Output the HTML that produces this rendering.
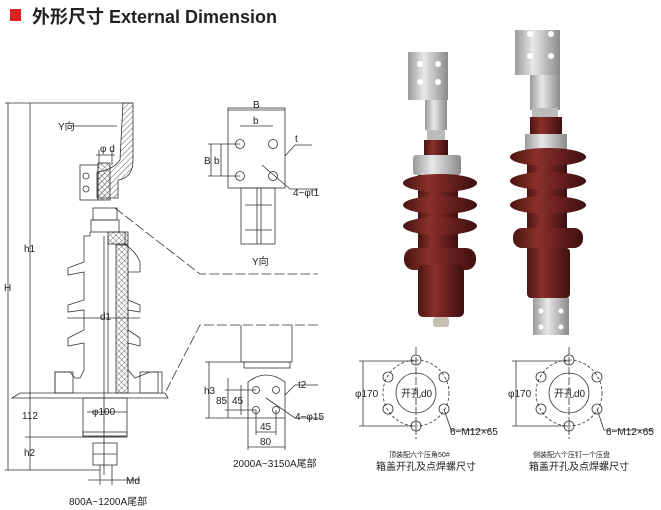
<!DOCTYPE html>
<html><head><meta charset="utf-8"><style>
html,body{margin:0;padding:0;background:#fff;}
svg{display:block;}
text{font-family:"Liberation Sans","Noto Sans CJK SC",sans-serif;fill:#222;}
</style></head><body>
<svg width="661" height="510" viewBox="0 0 661 510" xmlns="http://www.w3.org/2000/svg">
<defs>
<pattern id="hat" width="4" height="4" patternUnits="userSpaceOnUse" patternTransform="rotate(45)"><line x1="0" y1="0" x2="0" y2="4" stroke="#333" stroke-width="0.8"/></pattern>
<pattern id="xh" width="4" height="4" patternUnits="userSpaceOnUse" patternTransform="rotate(45)"><path d="M0 0V4M0 0H4" stroke="#444" stroke-width="0.7"/></pattern>
<linearGradient id="br" x1="0" x2="1"><stop offset="0" stop-color="#4a1512"/><stop offset="0.35" stop-color="#8a302a"/><stop offset="0.6" stop-color="#6e2220"/><stop offset="1" stop-color="#3e1010"/></linearGradient>
<linearGradient id="me" x1="0" x2="1"><stop offset="0" stop-color="#9a9a9a"/><stop offset="0.4" stop-color="#e8e8e8"/><stop offset="1" stop-color="#8a8a8a"/></linearGradient>
</defs>
<rect x="10" y="9" width="11" height="12" fill="#e02020"/>
<text x="32" y="23" font-size="18" font-weight="bold" fill="#222">外形尺寸  External Dimension</text>

<g stroke="#333" stroke-width="0.8" fill="none">
<line x1="5" y1="103" x2="133" y2="103"/>
<line x1="8" y1="103" x2="8" y2="470"/>
<line x1="30" y1="103" x2="30" y2="393"/>
<line x1="30" y1="393" x2="30" y2="437"/>
<line x1="30" y1="437" x2="30" y2="470"/>
<line x1="5" y1="470" x2="100" y2="470"/>
<line x1="25" y1="437" x2="125" y2="437"/>
<line x1="70" y1="126" x2="117" y2="126"/>
<path d="M123 103H133V160Q133 178 118 180V198H97V172Q113 170 120 160Z" fill="url(#hat)"/>
<rect x="80" y="165" width="18" height="35"/>
<circle cx="86" cy="176" r="3"/><circle cx="86" cy="189" r="3"/>
<rect x="98" y="163" width="12" height="37" fill="url(#xh)"/>
<line x1="99" y1="150" x2="99" y2="165"/><line x1="112" y1="150" x2="112" y2="165"/>
<line x1="96" y1="155" x2="115" y2="155"/>
<rect x="93" y="208" width="24" height="12"/>
<rect x="91" y="220" width="28" height="12"/>
<path d="M90 232V236H84V262L68 268V275L84 272V300L68 305V312L84 310V330L68 338V346L84 343V370L80 378H75L70 372H55V393"/>
<path d="M108 236V393"/><path d="M104 236V475"/>
<path d="M116 232H125V245Q135 250 140 262V272L128 272V300L140 305V312L128 310V330L140 338V346L128 343V370L135 378L150 372H162V393"/>
<rect x="116" y="245" width="12" height="148" fill="url(#xh)"/>
<rect x="108" y="232" width="20" height="12" fill="url(#xh)"/>
<line x1="67" y1="318" x2="140" y2="318"/>
<path d="M12 398L20 393H165L168 398Z"/>
<rect x="55" y="372" width="18" height="21"/><rect x="140" y="372" width="18" height="21"/>
<rect x="83" y="398" width="44" height="38"/>
<rect x="83" y="432" width="44" height="5"/>
<rect x="93" y="443" width="24" height="22"/>
<line x1="93" y1="454" x2="117" y2="454"/>
<line x1="100" y1="465" x2="100" y2="485"/><line x1="112" y1="465" x2="112" y2="485"/>
<line x1="88" y1="480" x2="140" y2="480"/>
<line x1="87" y1="412" x2="127" y2="412"/>
<path d="M115 208L200 274H318" stroke-dasharray="10 3"/>
<path d="M318 325H200L165 393" stroke-dasharray="10 3"/>
<rect x="228" y="108" width="57" height="80"/>
<rect x="241" y="188" width="34" height="56"/>
<line x1="257" y1="188" x2="257" y2="244"/><line x1="261" y1="188" x2="261" y2="244"/>
<line x1="245" y1="205" x2="272" y2="205"/><line x1="245" y1="230" x2="272" y2="230"/>
<circle cx="240" cy="144" r="4.5"/><circle cx="273" cy="144" r="4.5"/>
<circle cx="240" cy="176" r="4.5"/><circle cx="273" cy="176" r="4.5"/>
<line x1="228" y1="110" x2="285" y2="110"/><line x1="240" y1="126" x2="273" y2="126"/>
<line x1="208" y1="144" x2="240" y2="144"/><line x1="208" y1="176" x2="240" y2="176"/>
<line x1="211" y1="144" x2="211" y2="176"/><line x1="221" y1="144" x2="221" y2="176"/>
<path d="M262 165L290 189H318"/>
<path d="M285 156L295 145H312"/>
<path d="M241 325V362H292V325"/>
<rect x="244" y="362" width="46" height="6"/>
<path d="M248 418V382Q266 368 285 382V418Z"/>
<circle cx="256" cy="390" r="3.5"/><circle cx="276" cy="390" r="3.5"/>
<circle cx="256" cy="410" r="3.5"/><circle cx="276" cy="410" r="3.5"/>
<line x1="205" y1="362" x2="244" y2="362"/><line x1="205" y1="418" x2="248" y2="418"/>
<line x1="209" y1="362" x2="209" y2="418"/>
<line x1="225" y1="390" x2="256" y2="390"/><line x1="225" y1="410" x2="256" y2="410"/>
<line x1="228" y1="378" x2="228" y2="418"/><line x1="241" y1="385" x2="241" y2="415"/>
<line x1="256" y1="410" x2="256" y2="435"/><line x1="276" y1="410" x2="276" y2="435"/>
<line x1="256" y1="432" x2="276" y2="432"/>
<line x1="248" y1="418" x2="248" y2="450"/><line x1="285" y1="418" x2="285" y2="450"/>
<line x1="248" y1="447" x2="285" y2="447"/>
<path d="M266 398L295 418H322"/>
<path d="M285 395L295 385H318"/>
<g transform="translate(416,393)">
<circle r="33" stroke-dasharray="3 2"/><circle r="20"/>
<line x1="0" y1="-46" x2="0" y2="46" stroke-dasharray="8 2"/>
<circle cx="0" cy="-33" r="5"/><circle cx="0" cy="33" r="5"/>
<circle cx="-28" cy="-16" r="5"/><circle cx="28" cy="-16" r="5"/>
<circle cx="-28" cy="16" r="5"/><circle cx="28" cy="16" r="5"/>
<path d="M-57 -32H0M-57 33H0M-53 -32V33"/>
<path d="M28 16L35 37H75"/>
</g>
<g transform="translate(569,393)">
<circle r="33" stroke-dasharray="3 2"/><circle r="20"/>
<line x1="0" y1="-46" x2="0" y2="46" stroke-dasharray="8 2"/>
<circle cx="0" cy="-33" r="5"/><circle cx="0" cy="33" r="5"/>
<circle cx="-28" cy="-16" r="5"/><circle cx="28" cy="-16" r="5"/>
<circle cx="-28" cy="16" r="5"/><circle cx="28" cy="16" r="5"/>
<path d="M-57 -32H0M-57 33H0M-53 -32V33"/>
<path d="M28 16L35 37H85"/>
</g>
</g>

<g font-size="10">
<text x="58" y="130">Y向</text>
<text x="100" y="152">φ d</text>
<text x="24" y="252">h1</text>
<text x="4" y="291">H</text>
<text x="100" y="320">d1</text>
<text x="22" y="419">112</text>
<text x="24" y="456">h2</text>
<text x="92" y="415">φ100</text>
<text x="126" y="484">Md</text>
<text x="69" y="505">800A~1200A尾部</text>
<text x="253" y="108">B</text><text x="253" y="124">b</text>
<text x="204" y="164">B</text><text x="214" y="164">b</text>
<text x="295" y="142">t</text>
<text x="293" y="196">4−φt1</text>
<text x="252" y="265">Y向</text>
<text x="204" y="394">h3</text>
<text x="216" y="404">85</text>
<text x="232" y="404">45</text>
<text x="298" y="388">t2</text>
<text x="295" y="420">4−φ15</text>
<text x="260" y="430">45</text>
<text x="260" y="445">80</text>
<text x="233" y="467">2000A~3150A尾部</text>
<text x="355" y="397">φ170</text><text x="508" y="397">φ170</text>
<text x="401" y="397">开孔d0</text><text x="554" y="397">开孔d0</text>
<text x="450" y="435">6−M12×65</text><text x="606" y="435">6−M12×65</text>
<text x="389" y="457" font-size="7">顶装配六个压角50#</text>
<text x="533" y="457" font-size="7">侧装配六个压钉一个压盘</text>
<text x="376" y="470">箱盖开孔及点焊螺尺寸</text>
<text x="529" y="470">箱盖开孔及点焊螺尺寸</text>
</g>

<g>
<rect x="408" y="52" width="40" height="48" fill="url(#me)"/>
<g fill="#fff"><circle cx="420" cy="64" r="3"/><circle cx="438" cy="64" r="3"/><circle cx="420" cy="82" r="3"/><circle cx="438" cy="82" r="3"/></g>
<rect x="425" y="100" width="22" height="30" fill="url(#me)"/>
<rect x="427" y="130" width="18" height="10" fill="#bbb"/>
<rect x="424" y="140" width="24" height="16" fill="url(#br)"/>
<rect x="413" y="155" width="48" height="20" rx="3" fill="url(#me)"/>
<rect x="418" y="175" width="40" height="100" fill="url(#br)"/>
<ellipse cx="440" cy="183" rx="37" ry="9" fill="url(#br)"/>
<ellipse cx="440" cy="205" rx="37" ry="9" fill="url(#br)"/>
<ellipse cx="440" cy="226" rx="37" ry="9" fill="url(#br)"/>
<rect x="404" y="248" width="72" height="22" rx="10" fill="url(#br)"/>
<rect x="418" y="265" width="46" height="52" rx="5" fill="url(#br)"/>
<rect x="433" y="317" width="16" height="10" rx="3" fill="#c8c0b0"/>
</g>
<g>
<rect x="515" y="30" width="45" height="45" fill="url(#me)"/>
<g fill="#fff"><circle cx="530" cy="34" r="3"/><circle cx="551" cy="34" r="3"/><circle cx="530" cy="56" r="3"/><circle cx="551" cy="56" r="3"/></g>
<rect x="530" y="75" width="30" height="35" fill="url(#me)"/>
<rect x="532" y="108" width="26" height="10" fill="#bbb"/>
<rect x="530" y="117" width="32" height="18" fill="url(#br)"/>
<rect x="525" y="134" width="42" height="18" fill="url(#me)"/>
<rect x="527" y="150" width="40" height="125" fill="url(#br)"/>
<ellipse cx="548" cy="157" rx="38" ry="9" fill="url(#br)"/>
<ellipse cx="548" cy="181" rx="38" ry="9" fill="url(#br)"/>
<ellipse cx="548" cy="205" rx="38" ry="9" fill="url(#br)"/>
<rect x="513" y="228" width="70" height="20" rx="9" fill="url(#br)"/>
<rect x="527" y="248" width="43" height="50" rx="4" fill="url(#br)"/>
<rect x="533" y="298" width="36" height="37" fill="url(#me)"/>
<g fill="#fff"><circle cx="541" cy="311" r="2.5"/><circle cx="561" cy="311" r="2.5"/><circle cx="541" cy="327" r="2.5"/><circle cx="561" cy="327" r="2.5"/></g>
</g>
</svg>
</body></html>
